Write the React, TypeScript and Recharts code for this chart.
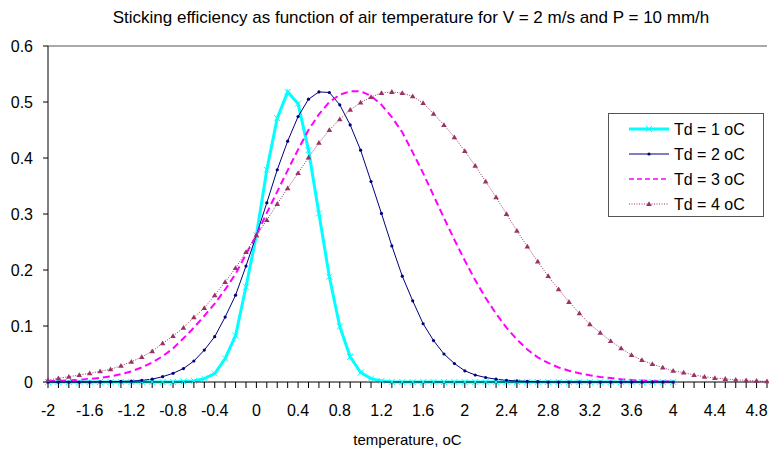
import React from 'react';
import { LineChart, Line, XAxis, YAxis, ReferenceLine, Legend } from 'recharts';

const FONT = '"Liberation Sans", Arial, sans-serif';

const chartTitle = 'Sticking efficiency as function of air temperature for V = 2 m/s and P = 10 mm/h';
const xAxisTitle = 'temperature, oC';

// air temperature categories (oC)
const temps = [
  -2, -1.9, -1.8, -1.7, -1.6, -1.5, -1.4, -1.3, -1.2, -1.1,
  -1, -0.9, -0.8, -0.7, -0.6, -0.5, -0.4, -0.3, -0.2, -0.1,
  0, 0.1, 0.2, 0.3, 0.4, 0.5, 0.6, 0.7, 0.8, 0.9,
  1, 1.1, 1.2, 1.3, 1.4, 1.5, 1.6, 1.7, 1.8, 1.9,
  2, 2.1, 2.2, 2.3, 2.4, 2.5, 2.6, 2.7, 2.8, 2.9,
  3, 3.1, 3.2, 3.3, 3.4, 3.5, 3.6, 3.7, 3.8, 3.9,
  4, 4.1, 4.2, 4.3, 4.4, 4.5, 4.6, 4.7, 4.8, 4.9,
];

const xTickLabels = [-2, -1.6, -1.2, -0.8, -0.4, 0, 0.4, 0.8, 1.2, 1.6, 2, 2.4, 2.8, 3.2, 3.6, 4, 4.4, 4.8];
const yTicks = [0, 0.1, 0.2, 0.3, 0.4, 0.5, 0.6];

const seriesNames = ['Td = 1 oC', 'Td = 2 oC', 'Td = 3 oC', 'Td = 4 oC'];

// Td = 1 oC  (-2 .. 4)
const td1 = [
  0, 0, 0, 0, 0, 0, 0, 0, 0, 0,
  0, 0, 0, 0.001, 0.002, 0.006, 0.015, 0.042, 0.083, 0.17,
  0.262, 0.379, 0.471, 0.518, 0.497, 0.414, 0.301, 0.188, 0.099, 0.045,
  0.017, 0.006, 0.002, 0, 0, 0, 0, 0, 0, 0,
  0, 0, 0, 0, 0, 0, 0, 0, 0, 0,
  0, 0, 0, 0, 0, 0, 0, 0, 0, 0,
  0,
];

// Td = 2 oC  (-2 .. 4)
const td2 = [
  0, 0, 0, 0, 0, 0.0003, 0.0005, 0.001, 0.0015, 0.003,
  0.005, 0.0095, 0.0155, 0.024, 0.0375, 0.057, 0.081, 0.116, 0.155, 0.207,
  0.262, 0.32, 0.379, 0.43, 0.474, 0.505, 0.518, 0.517, 0.495, 0.459,
  0.414, 0.358, 0.301, 0.243, 0.189, 0.145, 0.104, 0.074, 0.05, 0.033,
  0.02, 0.0125, 0.008, 0.005, 0.003, 0.002, 0.001, 0.0005, 0, 0,
  0, 0, 0, 0, 0, 0, 0, 0, 0, 0,
  0,
];

// Td = 3 oC  (-2 .. 4)
const td3 = [
  0.0015, 0.002, 0.003, 0.004, 0.0055, 0.0075, 0.01, 0.014, 0.019, 0.026,
  0.035, 0.046, 0.06, 0.078, 0.097, 0.118, 0.14, 0.165, 0.193, 0.228,
  0.262, 0.302, 0.34, 0.378, 0.415, 0.45, 0.478, 0.5, 0.513, 0.519,
  0.519, 0.511, 0.495, 0.473, 0.446, 0.41, 0.373, 0.333, 0.293, 0.254,
  0.217, 0.182, 0.15, 0.122, 0.097, 0.076, 0.058, 0.044, 0.034, 0.026,
  0.02, 0.0155, 0.012, 0.009, 0.007, 0.005, 0.0035, 0.0025, 0.0018, 0.0011,
  0.0006,
];

// Td = 4 oC  (-2 .. 4.9)
const td4 = [
  0.0036, 0.0066, 0.0095, 0.0125, 0.0155, 0.019, 0.0226, 0.029, 0.036, 0.0446,
  0.055, 0.069, 0.082, 0.097, 0.1155, 0.132, 0.155, 0.1786, 0.2036, 0.232,
  0.262, 0.289, 0.318, 0.346, 0.373, 0.401, 0.427, 0.45, 0.469, 0.486,
  0.499, 0.509, 0.516, 0.518, 0.516, 0.51, 0.498, 0.479, 0.459, 0.437,
  0.4125, 0.386, 0.358, 0.33, 0.3, 0.27, 0.242, 0.215, 0.189, 0.1655,
  0.143, 0.1226, 0.103, 0.088, 0.073, 0.06, 0.048, 0.039, 0.032, 0.0256,
  0.02, 0.0167, 0.0125, 0.0095, 0.0071, 0.0055, 0.004, 0.003, 0.002, 0.0012,
];

const pick = (arr: number[], i: number) => (i < arr.length ? arr[i] : null);

const data = temps.map((t, i) => ({
  t,
  td1: pick(td1, i),
  td2: pick(td2, i),
  td3: pick(td3, i),
  td4: pick(td4, i),
}));

const C1 = '#00FFFF';
const C2 = '#000080';
const C3 = '#FF00FF';
const C4 = '#993366';

const crossPath = (cx: number, cy: number, s: number) =>
  `M${cx - s},${cy - s}L${cx + s},${cy + s}M${cx - s},${cy + s}L${cx + s},${cy - s}`;
const triPath = (cx: number, cy: number, s: number) =>
  `M${cx},${cy - s}L${cx + s},${cy + s * 0.7}L${cx - s},${cy + s * 0.7}Z`;

const CrossDot = (props: any) => {
  const { cx, cy, index } = props;
  if (cx == null || cy == null || isNaN(cy)) return <g key={`c${index}`} />;
  return <path key={`c${index}`} d={crossPath(cx, cy, 3)} stroke={C1} strokeWidth={1} fill="none" />;
};
const RoundDot = (props: any) => {
  const { cx, cy, index } = props;
  if (cx == null || cy == null || isNaN(cy)) return <g key={`r${index}`} />;
  return <circle key={`r${index}`} cx={cx} cy={cy} r={1.6} fill={C2} stroke="none" />;
};
const TriDot = (props: any) => {
  const { cx, cy, index } = props;
  if (cx == null || cy == null || isNaN(cy)) return <g key={`t${index}`} />;
  return <path key={`t${index}`} d={triPath(cx, cy, 2.8)} fill={C4} stroke="none" />;
};

const XTick = (props: any) => {
  const { x, y, payload } = props;
  const v = payload.value;
  const show = xTickLabels.some((l) => Math.abs(l - v) < 1e-6);
  if (!show) return <g />;
  return (
    <text x={x} y={y} dy="0.71em" textAnchor="middle" fontSize={16} fill="#000" fontFamily={FONT}>
      {String(v)}
    </text>
  );
};

const renderLegend = () => {
  const rows = [
    { name: seriesNames[0], color: C1, width: 3, dash: undefined as string | undefined, marker: 'cross' },
    { name: seriesNames[1], color: C2, width: 1, dash: undefined, marker: 'dot' },
    { name: seriesNames[2], color: C3, width: 1.5, dash: '5 3', marker: 'none' },
    { name: seriesNames[3], color: C4, width: 1, dash: '1 1.5', marker: 'tri' },
  ];
  return (
    <svg width={157} height={105} style={{ display: 'block' }}>
      <rect x={0.5} y={0.5} width={155} height={103} fill="#fff" stroke="#555" strokeWidth={1} />
      {rows.map((r, i) => {
        const cy = 16 + 25 * i;
        return (
          <g key={r.name}>
            <line x1={21} x2={61} y1={cy} y2={cy} stroke={r.color} strokeWidth={r.width} strokeDasharray={r.dash} />
            {r.marker === 'cross' && <path d={crossPath(41, cy, 3)} stroke={C1} strokeWidth={1} fill="none" />}
            {r.marker === 'dot' && <circle cx={41} cy={cy} r={1.6} fill={C2} />}
            {r.marker === 'tri' && <path d={triPath(41, cy, 2.8)} fill={C4} />}
            <text x={66} y={cy + 6} fontSize={16} fill="#000" fontFamily={FONT}>
              {r.name}
            </text>
          </g>
        );
      })}
    </svg>
  );
};

export default function App() {
  return (
    <div
      style={{
        position: 'absolute',
        left: 0,
        top: 0,
        width: 769,
        height: 450,
        background: '#fff',
        fontFamily: FONT,
      }}
    >
      <div
        style={{
          position: 'absolute',
          top: 8,
          left: 411,
          transform: 'translateX(-50%)',
          whiteSpace: 'nowrap',
          fontSize: 17,
          lineHeight: '20px',
          color: '#000',
          zIndex: 2,
        }}
      >
        {chartTitle}
      </div>
      <LineChart width={769} height={450} data={data} margin={{ top: 46, right: 2, left: 8, bottom: 4 }}>
        <XAxis
          dataKey="t"
          type="number"
          domain={[-2, 4.9]}
          ticks={temps}
          interval={0}
          tick={<XTick />}
          tickSize={6}
          tickMargin={17}
          height={64}
          stroke="#000"
          label={{ value: xAxisTitle, position: 'insideBottom', offset: 1, fontSize: 15, fill: '#000' }}
        />
        <YAxis
          type="number"
          domain={[0, 0.6]}
          ticks={yTicks}
          interval={0}
          width={40}
          tickSize={5}
          tickMargin={10}
          stroke="#000"
          tick={{ fontSize: 16, fill: '#000', fontFamily: FONT }}
        />
        <ReferenceLine y={0.6} stroke="#555" strokeWidth={1} />
        <Legend
          layout="horizontal"
          align="center"
          verticalAlign="middle"
          content={renderLegend}
          wrapperStyle={{ left: 608, top: 113, width: 157, height: 105 }}
        />
        <Line
          type="linear"
          dataKey="td1"
          name={seriesNames[0]}
          stroke={C1}
          strokeWidth={3}
          dot={CrossDot}
          activeDot={false}
          isAnimationActive={false}
        />
        <Line
          type="linear"
          dataKey="td2"
          name={seriesNames[1]}
          stroke={C2}
          strokeWidth={1}
          dot={RoundDot}
          activeDot={false}
          isAnimationActive={false}
        />
        <Line
          type="linear"
          dataKey="td3"
          name={seriesNames[2]}
          stroke={C3}
          strokeWidth={2}
          strokeDasharray="7 4"
          dot={false}
          activeDot={false}
          isAnimationActive={false}
        />
        <Line
          type="linear"
          dataKey="td4"
          name={seriesNames[3]}
          stroke={C4}
          strokeWidth={1}
          strokeDasharray="1 1.5"
          dot={TriDot}
          activeDot={false}
          isAnimationActive={false}
        />
      </LineChart>
    </div>
  );
}
